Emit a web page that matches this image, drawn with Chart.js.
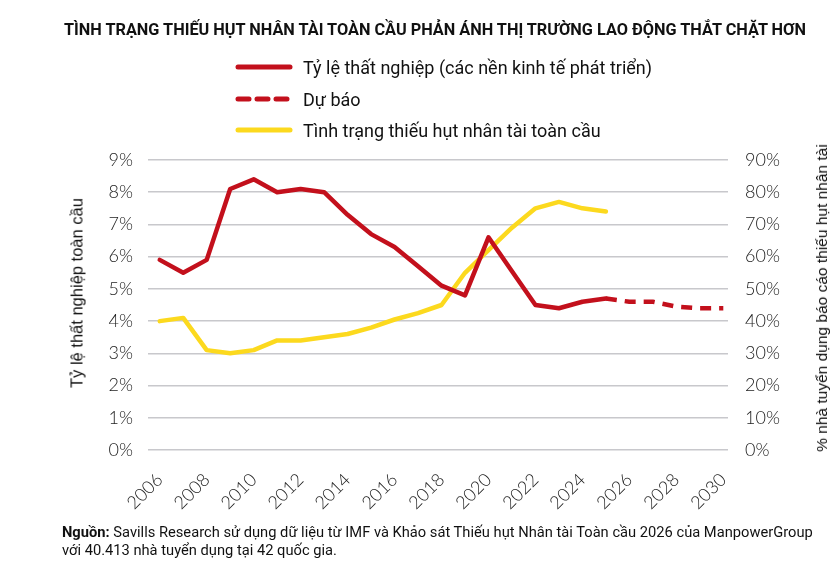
<!DOCTYPE html>
<html lang="vi">
<head>
    <meta charset="UTF-8">
    <title>Tình trạng thiếu hụt nhân tài toàn cầu</title>
    <script src="https://cdn.jsdelivr.net/npm/chart.js"></script>
    <style>
        body { margin: 0; background: #fff; }
        #wrap { position: relative; width: 840px; height: 571px; overflow: hidden; font-family: "Liberation Sans Narrow", "Roboto", sans-serif; color: #111; }
        #chart { position: absolute; left: 0; top: 0; }
        #title { position: absolute; top: 20px; left: 0; width: 870px; text-align: center; font-weight: bold; font-size: 16.3px; }
        .leg { position: absolute; left: 235px; height: 20px; display: flex; align-items: center; font-size: 18px; }
        .leg svg { margin-right: 10px; }
        .axt { position: absolute; white-space: nowrap; font-family: "Liberation Sans", Arial, sans-serif; font-size: 15.5px; color: #111; transform: translate(-50%, -50%) rotate(-90deg); }
        #source { position: absolute; left: 62px; top: 523px; font-size: 14.7px; line-height: 18px; }
    </style>
</head>
<body>
<div id="wrap">
    <canvas id="chart" width="840" height="571"></canvas>
    <div id="title">TÌNH TRẠNG THIẾU HỤT NHÂN TÀI TOÀN CẦU PHẢN ÁNH THỊ TRƯỜNG LAO ĐỘNG THẮT CHẶT HƠN</div>
    <!-- legend -->
    <div class="leg" style="top:57px"><svg width="58" height="8"><line x1="3" y1="4" x2="55" y2="4" stroke="#C3101C" stroke-width="5" stroke-linecap="round"/></svg>Tỷ lệ thất nghiệp (các nền kinh tế phát triển)</div>
    <div class="leg" style="top:89px"><svg width="58" height="8"><line x1="3" y1="4" x2="55" y2="4" stroke="#C3101C" stroke-width="5" stroke-linecap="round" stroke-dasharray="11 8"/></svg>Dự báo</div>
    <div class="leg" style="top:120px"><svg width="58" height="8"><line x1="3" y1="4" x2="55" y2="4" stroke="#FCD91E" stroke-width="5" stroke-linecap="round"/></svg>Tình trạng thiếu hụt nhân tài toàn cầu</div>
    <!-- axis titles -->
    <div class="axt" style="left:77px; top:293px; font-size:16.5px">Tỷ lệ thất nghiệp toàn cầu</div>
    <div class="axt" style="left:822px; top:298px">% nhà tuyển dụng báo cáo thiếu hụt nhân tài</div>
    <div id="source"><b>Nguồn:</b> Savills Research sử dụng dữ liệu từ IMF và Khảo sát Thiếu hụt Nhân tài Toàn cầu 2026 của ManpowerGroup<br>với 40.413 nhà tuyển dụng tại 42 quốc gia.</div>
</div>

<script>
    // Du lieu
    const years = [2006, 2007, 2008, 2009, 2010, 2011, 2012, 2013, 2014, 2015, 2016, 2017, 2018, 2019, 2020, 2021, 2022, 2023, 2024, 2025];
    const unemployment = [5.9, 5.5, 5.9, 8.1, 8.4, 8.0, 8.1, 8.0, 7.3, 6.7, 6.3, 5.7, 5.1, 4.8, 6.6, 5.55, 4.5, 4.4, 4.6, 4.7];
    const forecastYears = [2025, 2026, 2027, 2028, 2029, 2030];
    const forecast = [4.7, 4.6, 4.6, 4.45, 4.4, 4.4];
    const shortage = [40, 41, 31, 30, 31, 34, 34, 35, 36, 38, 40.5, 42.5, 45, 55, 62, 69, 75, 77, 75, 74];
    const xTicks = [2006, 2008, 2010, 2012, 2014, 2016, 2018, 2020, 2022, 2024, 2026, 2028, 2030];

    const RED = '#C3101C';
    const YELLOW = '#FCD91E';
    const tickFont = { family: 'Lato', size: 18, weight: '300' };

    const pts = (xs, ys) => xs.map((x, i) => ({ x: x, y: ys[i] }));

    new Chart(document.getElementById('chart'), {
        type: 'line',
        data: {
            datasets: [
                { label: 'Tỷ lệ thất nghiệp (các nền kinh tế phát triển)', data: pts(years, unemployment), borderColor: RED, yAxisID: 'y' },
                { label: 'Dự báo', data: pts(forecastYears, forecast), borderColor: RED, borderDash: [11, 8], borderCapStyle: 'butt', yAxisID: 'y' },
                { label: 'Tình trạng thiếu hụt nhân tài toàn cầu', data: pts(years, shortage), borderColor: YELLOW, yAxisID: 'y2' }
            ]
        },
        options: {
            responsive: false,
            animation: false,
            layout: { padding: { top: 160, left: 0, right: 0, bottom: 0 } },
            elements: {
                point: { radius: 0 },
                line: { borderWidth: 4.5, tension: 0, borderCapStyle: 'round', borderJoinStyle: 'round', fill: false }
            },
            plugins: { legend: { display: false }, tooltip: { enabled: false } },
            scales: {
                x: {
                    type: 'linear',
                    min: 2005.5,
                    max: 2030.2,
                    afterBuildTicks: (s) => { s.ticks = xTicks.map(v => ({ value: v })); },
                    afterFit: (s) => { s.height = 121; },
                    grid: { display: false },
                    border: { display: false },
                    ticks: { autoSkip: false, minRotation: 45, maxRotation: 45, padding: 11, color: '#222', font: tickFont, callback: v => String(v) }
                },
                y: {
                    position: 'left',
                    min: 0, max: 9,
                    afterFit: (s) => { s.width = 148; },
                    grid: { color: '#C8C8CC', lineWidth: 1.6, drawTicks: false },
                    border: { display: false },
                    ticks: { stepSize: 1, padding: 15, color: '#222', font: tickFont, callback: v => v + '%' }
                },
                y2: {
                    position: 'right',
                    min: 0, max: 90,
                    afterFit: (s) => { s.width = 112; },
                    grid: { display: false, drawTicks: false },
                    border: { display: false },
                    ticks: { stepSize: 10, padding: 17, color: '#222', font: tickFont, callback: v => v + '%' }
                }
            }
        }
    });
</script>
</body>
</html>
